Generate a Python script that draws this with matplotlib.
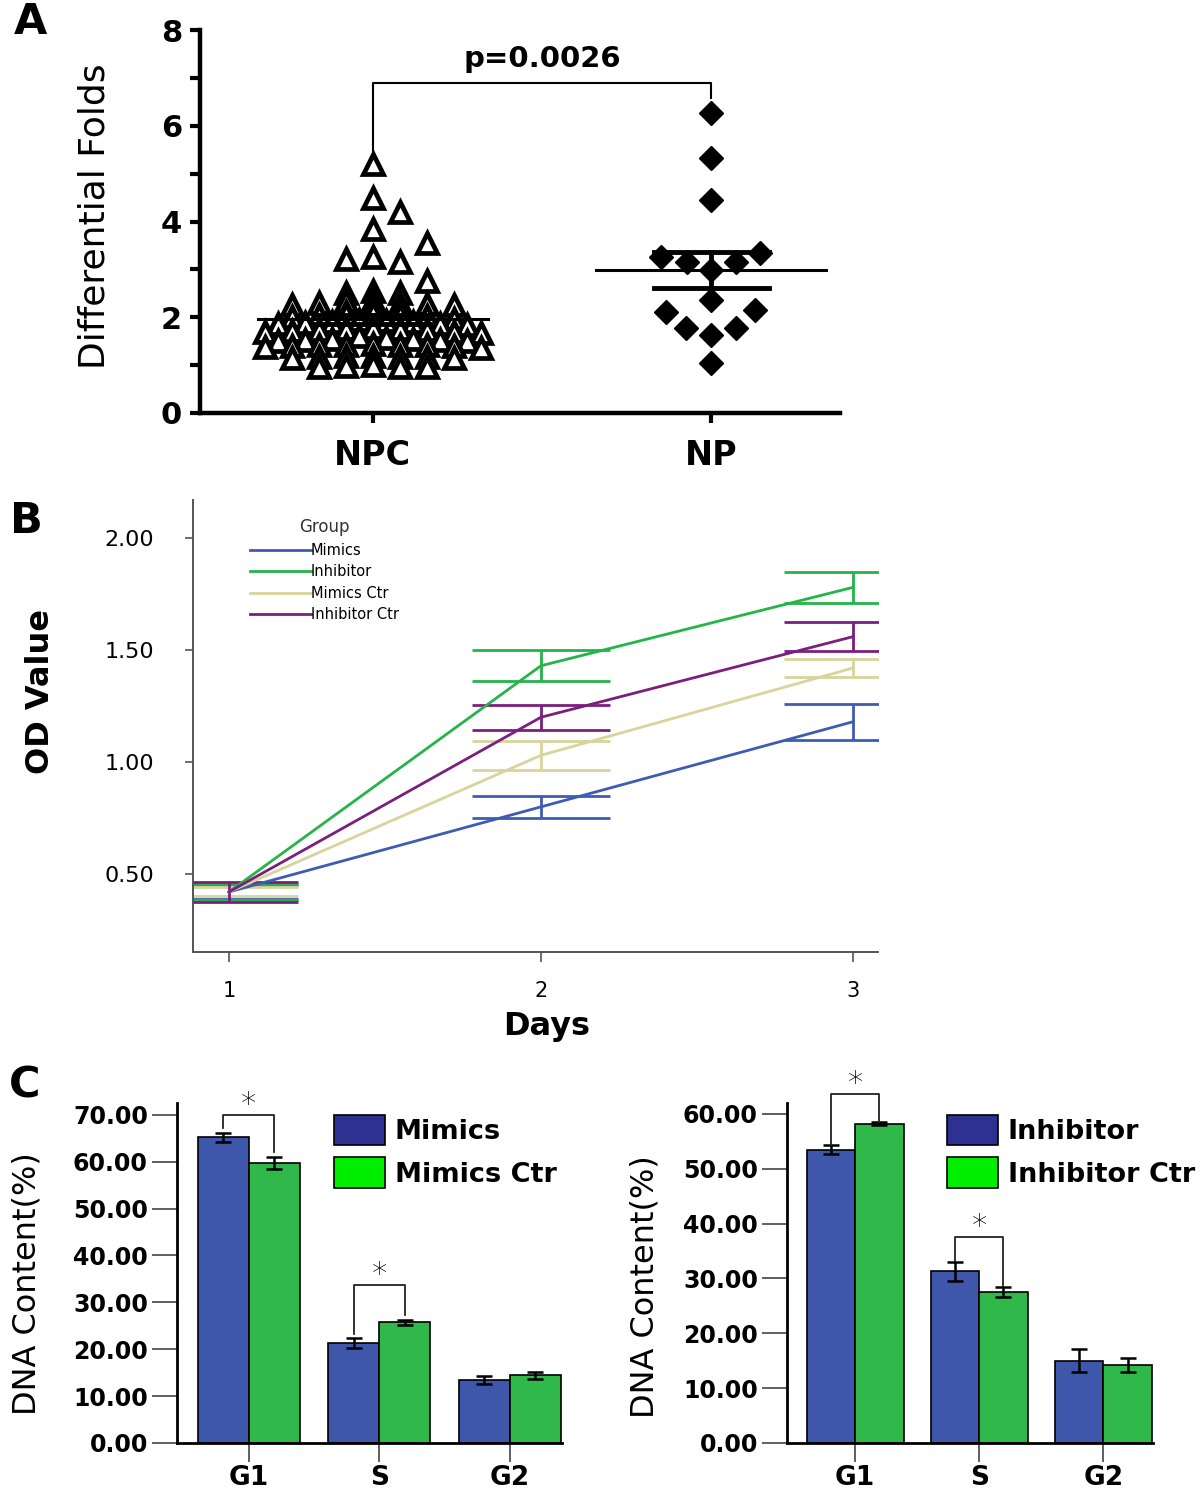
import numpy as np
import matplotlib
matplotlib.use('Agg')
import matplotlib.pyplot as plt
from matplotlib.lines import Line2D
from matplotlib.patches import Patch

# ---- Panel A: differential folds ----
npc_vals = [5.2, 4.5, 4.2, 3.85, 3.55, 3.25, 3.22, 3.15, 2.75,
            2.55, 2.5, 2.5,
            2.35, 2.33, 2.3, 2.3, 2.27, 2.25, 2.25, 2.23,
            2.08, 2.1, 2.1, 2.07, 2.05, 2.05, 2.03, 2.0, 1.97,
            1.95, 1.93, 1.9, 1.9, 1.87, 1.85, 1.85, 1.83,
            1.77, 1.75, 1.75, 1.73, 1.73, 1.71, 1.7, 1.7, 1.67,
            1.6, 1.57, 1.55, 1.55, 1.53, 1.53, 1.5, 1.5,
            1.45, 1.43, 1.43, 1.41, 1.41, 1.4, 1.39, 1.38, 1.35,
            1.2, 1.19, 1.17, 1.17, 1.16, 1.15, 1.14,
            1.0, 0.98, 0.97, 0.97, 0.96]
np_vals = [6.26, 5.32, 4.45, 3.34, 3.26, 3.15, 3.15, 2.99, 2.36, 2.15, 2.11,
           1.77, 1.77, 1.63, 1.04]
a_groups = ['NPC', 'NP']
p_text = 'p=0.0026'

# ---- Panel B: OD value over days ----
days = [1, 2, 3]
od_names = ['Mimics', 'Inhibitor', 'Mimics Ctr', 'Inhibitor Ctr']
od_mean = {'Mimics': [0.42, 0.80, 1.18],
           'Inhibitor': [0.42, 1.43, 1.78],
           'Mimics Ctr': [0.42, 1.03, 1.42],
           'Inhibitor Ctr': [0.42, 1.20, 1.56]}
od_err = {'Mimics': [0.03, 0.05, 0.08],
          'Inhibitor': [0.035, 0.07, 0.07],
          'Mimics Ctr': [0.02, 0.065, 0.04],
          'Inhibitor Ctr': [0.045, 0.055, 0.065]}
od_colors = {'Mimics': '#3f5bb4', 'Inhibitor': '#25b34a',
             'Mimics Ctr': '#d8d49c', 'Inhibitor Ctr': '#7a1f7e'}

# ---- Panel C: cell cycle DNA content ----
phases = ['G1', 'S', 'G2']
mim_vals = [65.2, 21.3, 13.4]
mim_err = [1.0, 1.0, 0.8]
mimctr_vals = [59.7, 25.7, 14.4]
mimctr_err = [1.3, 0.5, 0.8]
inh_vals = [53.5, 31.3, 15.0]
inh_err = [0.8, 1.7, 2.1]
inhctr_vals = [58.2, 27.6, 14.2]
inhctr_err = [0.3, 0.9, 1.3]

BAR_BLUE = '#3f57aa'
BAR_GREEN = '#30b84a'

W, H = 1200, 1489


def fig_rect(x0, y0, x1, y1):
    # pixel box (top-left origin) -> figure fraction rect
    return [x0 / W, 1 - y1 / H, (x1 - x0) / W, (y1 - y0) / H]


def row_offsets(vals, x_px, step, row_h, lone_dy):
    """Prism-like column scatter: values closer than row_h share a row and
    are spread sideways; lone points step aside when they sit on top of
    an earlier point (closer than lone_dy)."""
    vals = np.asarray(vals, dtype=float)
    order = list(np.argsort(vals))
    offs = np.zeros(len(vals))
    placed = []
    while order:
        start = vals[order[0]]
        row = [i for i in order if vals[i] - start < row_h]
        order = order[len(row):]
        n = len(row)
        if n == 1:
            i = row[0]
            near = [px for px, v in placed if abs(vals[i] - v) < lone_dy]
            cands = [0.0] + [s * k * step for k in (1, 2, 3) for s in (1, -1)]
            for c in cands:
                if all(abs(c - px) >= step - 1e-6 for px in near):
                    break
            offs[i] = c / x_px
            placed.append((c, vals[i]))
            continue
        slots = [(k - (n - 1) / 2.0) * step for k in range(n)]
        slots.sort(key=lambda s: (abs(s), s))
        for i, s in zip(row[::-1], slots):
            offs[i] = s / x_px
            placed.append((s, vals[i]))
    return offs


def swarm_offsets(vals, x_px, y_px, dmin):
    """Simple beeswarm: offsets (data units) so markers do not overlap."""
    vals = np.asarray(vals, dtype=float)
    order = np.argsort(vals)
    placed = []
    offs = np.zeros(len(vals))
    for i in order:
        y = vals[i] * y_px
        cands = [0.0]
        for px, py in placed:
            dy = y - py
            if abs(dy) < dmin:
                dx = np.sqrt(dmin ** 2 - dy ** 2)
                cands += [px + dx, px - dx]
        cands = sorted(cands, key=lambda c: (abs(c), c))
        for c in cands:
            if all((c - px) ** 2 + (y - py) ** 2 >= dmin ** 2 - 1e-6 for px, py in placed):
                break
        placed.append((c, y))
        offs[i] = c / x_px
    return offs


fig = plt.figure(figsize=(W / 100, H / 100), dpi=100)

# ================= Panel A =================
axA = fig.add_axes(fig_rect(200, 30, 840, 413))
xpx = 339.0   # pixels per x unit
ypx = 47.9    # pixels per y unit

npc = np.asarray(npc_vals)
offs = row_offsets(npc, xpx, 27, 0.13, 0.4)
axA.plot(1 + offs, npc, ls='none', marker='^', ms=15, mfc='white',
         mec='black', mew=3.4, zorder=3, clip_on=False)
npv = np.asarray(np_vals)
offs = swarm_offsets(npv, xpx, ypx, 26)
axA.plot(2 + offs, npv, ls='none', marker='D', ms=12, mfc='black',
         mec='black', mew=1, zorder=3, clip_on=False)

for pos, vals in [(1, npc), (2, npv)]:
    mean = vals.mean()
    sem = vals.std(ddof=1) / np.sqrt(len(vals))
    axA.plot([pos - 0.34, pos + 0.34], [mean, mean], color='black', lw=2.2, zorder=4)
    for v in (mean - sem, mean + sem):
        axA.plot([pos - 0.17, pos + 0.17], [v, v], color='black', lw=3.5, zorder=4)
    axA.plot([pos, pos], [mean - sem, mean + sem], color='black', lw=3.5, zorder=4)

# significance bracket
axA.plot([1, 1, 2, 2], [5.45, 6.89, 6.89, 6.58], color='black', lw=1.5, zorder=2)
axA.text(1.5, 7.1, p_text, ha='center', va='bottom', fontsize=21, fontweight='bold')

axA.set_xlim(0.49, 2.38)
axA.set_ylim(0, 8)
axA.set_yticks([0, 2, 4, 6, 8])
axA.set_yticks([1, 3, 5, 7], minor=True)
axA.set_xticks([1, 2])
axA.set_xticklabels(a_groups)
for sp in ['top', 'right']:
    axA.spines[sp].set_visible(False)
for sp in ['left', 'bottom']:
    axA.spines[sp].set_linewidth(3.2)
axA.tick_params(axis='y', which='both', direction='out', length=7, width=3, labelsize=22, pad=6)
axA.tick_params(axis='x', direction='out', length=7, width=3, labelsize=24, pad=12)
for lab in axA.get_yticklabels() + axA.get_xticklabels():
    lab.set_fontweight('bold')
fig.text(95 / W, 1 - 216 / H, 'Differential Folds', rotation=90, ha='center', va='center',
         fontsize=26)

# ================= Panel B =================
axB = fig.add_axes(fig_rect(193, 500, 878, 952))
for name in od_names:
    axB.errorbar(days, od_mean[name], yerr=od_err[name], color=od_colors[name], lw=2,
                 elinewidth=2, capsize=50, capthick=2, label=name)
axB.set_xlim(0.885, 3.08)
axB.set_ylim(0.152, 2.17)
axB.set_yticks([0.5, 1.0, 1.5, 2.0])
axB.set_yticklabels(['%.2f' % v for v in [0.5, 1.0, 1.5, 2.0]])
axB.set_xticks(days)
for sp in ['top', 'right']:
    axB.spines[sp].set_visible(False)
for sp in ['left', 'bottom']:
    axB.spines[sp].set_color('#555555')
    axB.spines[sp].set_linewidth(1.4)
axB.tick_params(axis='y', direction='out', length=6, width=1.2, color='#555555', labelsize=16, pad=22)
axB.tick_params(axis='x', direction='out', length=7, width=1.2, color='#555555', labelsize=15, pad=14)
handles = [Line2D([], [], color=od_colors[n], lw=2) for n in od_names]
leg = axB.legend(handles, od_names, title='Group', frameon=False, loc='upper left',
                 bbox_to_anchor=(0.083, 0.96), fontsize=10.5, title_fontsize=12,
                 handlelength=4.2, handletextpad=0.0, labelspacing=0.45,
                 borderpad=0, borderaxespad=0)
leg.get_title().set_color('#333333')
fig.text(41 / W, 1 - 692 / H, 'OD Value', rotation=90, ha='center', va='center',
         fontsize=23, fontweight='bold')
fig.text(547 / W, 1 - 1027 / H, 'Days', ha='center', va='center', fontsize=23,
         fontweight='bold')


# ================= Panel C =================
def cycle_panel(ax, a_vals, a_err, b_vals, b_err, a_name, b_name, ymax, ytop,
                brackets, gap, leg_xy):
    x = np.arange(len(phases))
    w = 0.39
    ekw = dict(elinewidth=1.8, capthick=1.8, ecolor='black')
    ax.bar(x - w / 2, a_vals, w, yerr=a_err, color=BAR_BLUE, edgecolor='black',
           linewidth=1.2, capsize=6, error_kw=ekw, zorder=2)
    ax.bar(x + w / 2, b_vals, w, yerr=b_err, color=BAR_GREEN, edgecolor='black',
           linewidth=1.2, capsize=6, error_kw=ekw, zorder=2)
    for i, top in brackets:
        y_left = a_vals[i] + a_err[i] + gap
        y_right = b_vals[i] + b_err[i] + gap
        ax.plot([i - w / 2, i - w / 2, i + w / 2, i + w / 2],
                [y_left, top, top, y_right], color='#222222', lw=1.3,
                clip_on=False, zorder=3)
        ax.text(i, top - ymax * 0.012, '*', ha='center', va='bottom', fontsize=22,
                fontweight='light', clip_on=False)
    ax.set_xlim(-0.55, 2.4)
    ax.set_ylim(0, ytop)
    ax.set_yticks(np.arange(0, ymax + 1, 10))
    ax.set_yticklabels(['%.2f' % v for v in np.arange(0, ymax + 1, 10)])
    ax.set_xticks(x)
    ax.set_xticklabels(phases)
    for sp in ['top', 'right']:
        ax.spines[sp].set_visible(False)
    for sp in ['left', 'bottom']:
        ax.spines[sp].set_linewidth(2)
    ax.tick_params(axis='y', direction='out', length=18, width=1.2, color='#444444',
                   labelsize=17, pad=3)
    ax.tick_params(axis='x', direction='out', length=14, width=1.2, color='#444444',
                   labelsize=19, pad=2)
    for lab in ax.get_yticklabels() + ax.get_xticklabels():
        lab.set_fontweight('bold')
    handles = [Patch(facecolor='#2e3192', edgecolor='black', linewidth=1.2),
               Patch(facecolor='#00ee00', edgecolor='black', linewidth=1.2)]
    ax.legend(handles, [a_name, b_name], frameon=False, loc='upper left',
              bbox_to_anchor=leg_xy, borderpad=0, borderaxespad=0,
              prop={'size': 19.5, 'weight': 'bold'}, handlelength=1.9,
              handleheight=1.35, handletextpad=0.35, labelspacing=0.45)


axC1 = fig.add_axes(fig_rect(177, 1103, 562, 1443))
cycle_panel(axC1, mim_vals, mim_err, mimctr_vals, mimctr_err, 'Mimics', 'Mimics Ctr',
            70, 72.5, [(0, 69.9), (1, 33.7)], 1.0, (0.407, 0.965))
axC2 = fig.add_axes(fig_rect(787, 1103, 1153, 1443))
cycle_panel(axC2, inh_vals, inh_err, inhctr_vals, inhctr_err, 'Inhibitor', 'Inhibitor Ctr',
            60, 62, [(0, 63.7), (1, 37.6)], 0.1, (0.437, 0.965))
fig.text(27 / W, 1 - 1284 / H, 'DNA Content(%)', rotation=90, ha='center', va='center',
         fontsize=23)
fig.text(645 / W, 1 - 1287 / H, 'DNA Content(%)', rotation=90, ha='center', va='center',
         fontsize=23)

# panel letters
for letter, (px, py) in zip('ABC', [(30, 22), (26, 521), (25, 1085)]):
    fig.text(px / W, 1 - py / H, letter, ha='center', va='center', fontsize=31,
             fontweight='bold')

fig.savefig('out.png', dpi=100)
